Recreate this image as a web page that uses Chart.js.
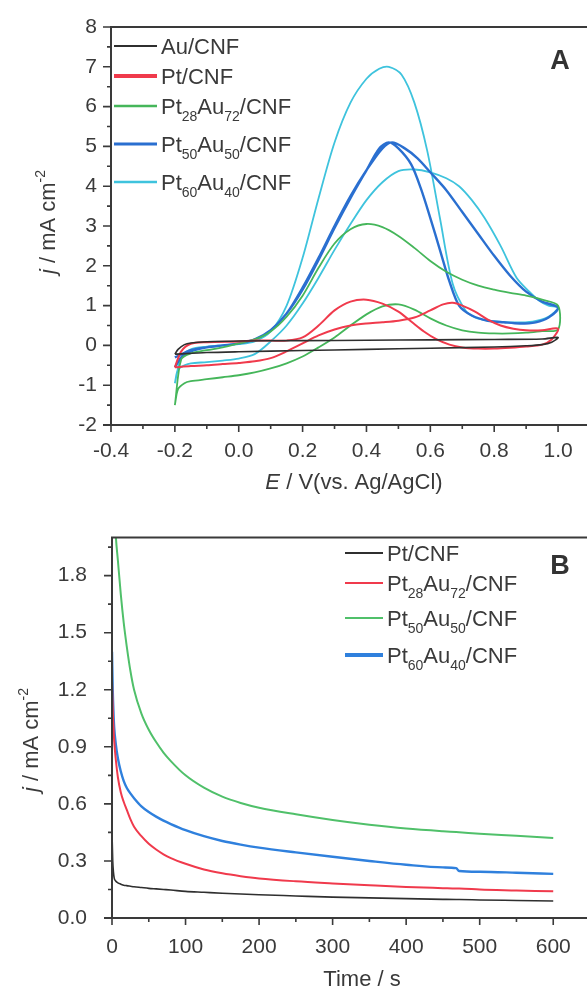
<!DOCTYPE html>
<html>
<head>
<meta charset="utf-8">
<script src="https://cdn.jsdelivr.net/npm/chart.js@4.4.0/dist/chart.umd.min.js"></script>
<style>
  html, body { margin: 0; padding: 0; background: #fff; overflow: hidden; }
  body { width: 587px; height: 990px; position: relative; }
  canvas { position: absolute; left: 0; }
  #cvA { top: 0; }
  #cvB { top: 500px; }
</style>
</head>
<body>
<canvas id="cvA" width="600" height="500"></canvas>
<canvas id="cvB" width="600" height="490"></canvas>
<script>
// Panel A - cyclic voltammograms, forward scan followed by reverse scan (closed loops)
const auE = [-0.2, -0.19, -0.17, -0.15, -0.1, 0.0, 0.2, 0.4, 0.6, 0.8, 0.95, 1.0,
             0.98, 0.95, 0.9, 0.8, 0.6, 0.4, 0.2, 0.0, -0.1, -0.2];
const auJ = [-0.22, -0.1, 0.02, 0.06, 0.09, 0.11, 0.12, 0.13, 0.14, 0.15, 0.16, 0.2,
             0.08, 0.02, -0.01, -0.04, -0.07, -0.1, -0.13, -0.16, -0.18, -0.22];

const ptE = [-0.2, -0.15, -0.1, -0.05, 0.0, 0.05, 0.1, 0.15, 0.2, 0.25, 0.3, 0.35, 0.4, 0.45, 0.5, 0.55, 0.6, 0.64, 0.67, 0.7, 0.74, 0.78, 0.82, 0.86, 0.9, 0.95, 1.0,
             0.98, 0.95, 0.9, 0.85, 0.8, 0.75, 0.7, 0.66, 0.62, 0.58, 0.54, 0.5, 0.45, 0.4, 0.35, 0.3, 0.25, 0.2, 0.15, 0.1, 0.05, 0.0, -0.1, -0.15, -0.18, -0.2];
const ptJ = [-0.55, -0.52, -0.5, -0.47, -0.44, -0.4, -0.32, -0.15, 0.05, 0.25, 0.4, 0.5, 0.55, 0.58, 0.62, 0.7, 0.88, 1.03, 1.07, 1.0, 0.85, 0.65, 0.5, 0.42, 0.38, 0.38, 0.42,
             0.15, 0.02, -0.03, -0.06, -0.08, -0.08, -0.05, 0.02, 0.15, 0.35, 0.6, 0.85, 1.05, 1.15, 1.1, 0.88, 0.5, 0.2, 0.12, 0.12, 0.12, 0.1, 0.08, 0.04, -0.15, -0.55];

const pt28E = [-0.2, -0.19, -0.17, -0.15, -0.1, -0.05, 0.0, 0.05, 0.1, 0.15, 0.2, 0.25, 0.3, 0.35, 0.4, 0.45, 0.5, 0.55, 0.6, 0.65, 0.7, 0.75, 0.8, 0.85, 0.9, 0.95, 1.0,
               1.0, 0.95, 0.9, 0.85, 0.8, 0.75, 0.7, 0.65, 0.6, 0.55, 0.5, 0.45, 0.4, 0.35, 0.3, 0.25, 0.2, 0.15, 0.1, 0.05, 0.0, -0.05, -0.1, -0.15, -0.18, -0.2];
const pt28J = [-1.5, -1.1, -0.95, -0.9, -0.85, -0.8, -0.75, -0.68, -0.58, -0.45, -0.28, -0.05, 0.2, 0.5, 0.78, 0.98, 1.03, 0.9, 0.68, 0.5, 0.38, 0.32, 0.3, 0.3, 0.32, 0.36, 0.4,
               1.0, 1.15, 1.25, 1.32, 1.4, 1.5, 1.65, 1.85, 2.12, 2.45, 2.75, 2.97, 3.05, 2.92, 2.56, 1.95, 1.25, 0.72, 0.35, 0.15, 0.05, -0.05, -0.12, -0.2, -0.35, -1.5];

const pt50E = [-0.2, -0.18, -0.15, -0.1, -0.05, 0.0, 0.05, 0.1, 0.15, 0.2, 0.25, 0.3, 0.35, 0.4, 0.45, 0.48, 0.52, 0.56, 0.6, 0.65, 0.7, 0.75, 0.8, 0.85, 0.9, 0.95, 1.0,
               0.97, 0.93, 0.88, 0.83, 0.78, 0.73, 0.69, 0.66, 0.63, 0.6, 0.57, 0.54, 0.5, 0.47, 0.44, 0.4, 0.35, 0.3, 0.25, 0.2, 0.15, 0.1, 0.05, 0.0, -0.05, -0.1, -0.15, -0.2];
const pt50J = [-0.55, -0.3, -0.15, -0.05, 0.0, 0.05, 0.15, 0.38, 0.8, 1.45, 2.2, 3.0, 3.75, 4.4, 4.95, 5.1, 4.95, 4.7, 4.35, 3.9, 3.35, 2.8, 2.25, 1.75, 1.35, 1.1, 0.95,
               0.7, 0.58, 0.55, 0.58, 0.62, 0.75, 1.0, 1.6, 2.4, 3.2, 3.95, 4.55, 4.95, 5.1, 4.95, 4.4, 3.7, 2.95, 2.15, 1.4, 0.8, 0.38, 0.15, 0.05, 0.0, -0.05, -0.12, -0.3];

const pt60E = [-0.2, -0.19, -0.17, -0.15, -0.1, -0.05, 0.0, 0.05, 0.1, 0.15, 0.2, 0.25, 0.3, 0.35, 0.4, 0.45, 0.5, 0.55, 0.6, 0.65, 0.69, 0.73, 0.77, 0.82, 0.87, 0.91, 0.94, 0.97, 1.0,
               0.97, 0.92, 0.85, 0.78, 0.74, 0.71, 0.67, 0.63, 0.59, 0.55, 0.51, 0.47, 0.44, 0.4, 0.35, 0.3, 0.25, 0.2, 0.15, 0.1, 0.05, 0.0, -0.05, -0.1, -0.15, -0.18, -0.2];
const pt60J = [-0.95, -0.6, -0.5, -0.45, -0.42, -0.38, -0.33, -0.22, 0.1, 0.5, 1.05, 1.7, 2.4, 3.05, 3.65, 4.1, 4.38, 4.42, 4.35, 4.2, 4.0, 3.65, 3.2, 2.5, 1.7, 1.35, 1.13, 1.0, 0.95,
               0.72, 0.6, 0.58, 0.62, 0.7, 0.88, 1.55, 3.2, 4.9, 6.1, 6.8, 7.0, 6.95, 6.7, 6.1, 5.1, 3.7, 2.2, 1.0, 0.35, 0.1, 0.03, 0.0, -0.03, -0.1, -0.3, -0.95];

const eTicks = [-0.4, -0.2, 0.0, 0.2, 0.4, 0.6, 0.8, 1.0];
const eMinor = [-0.3, -0.1, 0.1, 0.3, 0.5, 0.7, 0.9];
const jTicksA = [-2, -1, 0, 1, 2, 3, 4, 5, 6, 7, 8];
const jMinorA = [-1.5, -0.5, 0.5, 1.5, 2.5, 3.5, 4.5, 5.5, 6.5, 7.5];

// Panel B - chronoamperometry
const timeS = [0, 1, 2, 3, 5, 8, 12, 16, 20, 25, 30, 40, 50, 60, 70, 80, 100, 125, 150, 175, 200, 250, 300, 350, 400, 450, 468, 472, 500, 550, 600];
const caPt   = [0.45, 0.3, 0.24, 0.21, 0.195, 0.185, 0.178, 0.172, 0.17, 0.167, 0.164, 0.16, 0.156, 0.153, 0.15, 0.147, 0.14, 0.135, 0.13, 0.126, 0.122, 0.116, 0.11, 0.106, 0.102, 0.098, 0.097, 0.097, 0.095, 0.092, 0.089];
const caPt28 = [1.25, 1.1, 1.0, 0.93, 0.84, 0.74, 0.66, 0.61, 0.57, 0.52, 0.48, 0.43, 0.39, 0.36, 0.335, 0.315, 0.285, 0.255, 0.235, 0.22, 0.208, 0.193, 0.182, 0.172, 0.163, 0.157, 0.155, 0.155, 0.15, 0.145, 0.14];
const caPt50 = [2.6, 2.5, 2.35, 2.2, 2.02, 1.88, 1.7, 1.55, 1.43, 1.3, 1.2, 1.075, 0.99, 0.925, 0.87, 0.825, 0.75, 0.685, 0.638, 0.605, 0.58, 0.545, 0.515, 0.49, 0.47, 0.456, 0.452, 0.451, 0.443, 0.432, 0.42];
const caPt60 = [1.4, 1.2, 1.08, 1.0, 0.92, 0.84, 0.77, 0.72, 0.685, 0.655, 0.63, 0.587, 0.557, 0.533, 0.512, 0.494, 0.462, 0.43, 0.405, 0.386, 0.37, 0.345, 0.322, 0.3, 0.28, 0.266, 0.262, 0.247, 0.243, 0.238, 0.232];

const timeTicks = [0, 100, 200, 300, 400, 500, 600];
const timeMinor = [50, 150, 250, 350, 450, 550];
const jTicksB = [0, 0.3, 0.6, 0.9, 1.2, 1.5, 1.8];
const jMinorB = [0.15, 0.45, 0.75, 1.05, 1.35, 1.65, 1.95];

const FONT = '"Liberation Sans", Arial, sans-serif';
const INK = '#3a3a3a';

function pts(xs, ys) {
    return xs.map((x, i) => ({ x: x, y: ys[i] }));
}

function fontFor(mode, size) {
    const s = (mode === 'sub' || mode === 'sup') ? Math.round(size * 0.62) : size;
    return (mode === 'i' ? 'italic ' : '') + (mode === 'b' ? 'bold ' : '') + s + 'px ' + FONT;
}

// text with italic / sub / sup pieces, y is the middle of the capitals
function drawRich(ctx, parts, x, y, size, align) {
    let w = 0;
    parts.forEach(p => { ctx.font = fontFor(p[1], size); w += ctx.measureText(p[0]).width; });
    let cx = align === 'left' ? x : x - w / 2;
    const base = y + size * 0.36;
    ctx.textAlign = 'left';
    ctx.textBaseline = 'alphabetic';
    parts.forEach(p => {
        ctx.font = fontFor(p[1], size);
        const dy = p[1] === 'sub' ? size * 0.32 : (p[1] === 'sup' ? -size * 0.45 : 0);
        ctx.fillText(p[0], cx, base + dy);
        cx += ctx.measureText(p[0]).width;
    });
}

const framePlugin = {
    id: 'frame',
    afterDraw(chart, args, o) {
        const ctx = chart.ctx, a = chart.chartArea;
        const sx = chart.scales.x, sy = chart.scales.y;
        ctx.save();
        ctx.strokeStyle = INK;
        ctx.lineWidth = 2;
        ctx.beginPath();
        ctx.moveTo(a.left - 8, a.bottom); ctx.lineTo(a.right, a.bottom);
        ctx.moveTo(a.left, a.bottom); ctx.lineTo(a.left, a.top); ctx.lineTo(a.right, a.top);
        ctx.stroke();

        ctx.lineWidth = 1.6;
        ctx.beginPath();
        o.xMajor.forEach(v => { const p = sx.getPixelForValue(v); ctx.moveTo(p, a.bottom); ctx.lineTo(p, a.bottom + 7); });
        o.xMinor.forEach(v => { const p = sx.getPixelForValue(v); ctx.moveTo(p, a.bottom); ctx.lineTo(p, a.bottom + 4); });
        o.yMajor.forEach(v => { const p = sy.getPixelForValue(v); ctx.moveTo(a.left, p); ctx.lineTo(a.left - 8, p); });
        o.yMinor.forEach(v => { const p = sy.getPixelForValue(v); ctx.moveTo(a.left, p); ctx.lineTo(a.left - 4, p); });
        ctx.stroke();

        ctx.fillStyle = INK;
        drawRich(ctx, o.xTitle, o.xTitleAt[0], o.xTitleAt[1], 22);
        ctx.save();
        ctx.translate(o.yTitleAt[0], o.yTitleAt[1]);
        ctx.rotate(-Math.PI / 2);
        drawRich(ctx, [['j', 'i'], [' / mA cm', ''], ['-2', 'sup']], 0, 0, 22);
        ctx.restore();

        ctx.fillStyle = '#333';
        drawRich(ctx, [[o.letter, 'b']], o.letterAt[0], o.letterAt[1], 27);

        // legend
        const lg = o.legend;
        chart.data.datasets.forEach((ds, i) => {
            const y = lg.y[i];
            ctx.strokeStyle = ds.borderColor;
            ctx.lineWidth = lg.widths[i];
            ctx.beginPath();
            ctx.moveTo(lg.x0, y); ctx.lineTo(lg.x1, y);
            ctx.stroke();
            ctx.fillStyle = INK;
            drawRich(ctx, lg.names[i], lg.x1 + 4, y, 22, 'left');
        });
        ctx.restore();
    }
};

function curve(label, xs, ys, color, width, mono) {
    return {
        label: label,
        data: pts(xs, ys),
        borderColor: color,
        backgroundColor: color,
        borderWidth: width,
        showLine: true,
        pointRadius: 0,
        fill: false,
        tension: mono ? 0 : 0.3,
        cubicInterpolationMode: mono ? 'monotone' : 'default'
    };
}

function scaleX(min, max, ticks, fmt, pad, h) {
    return {
        type: 'linear', min: min, max: max,
        grid: { display: false, drawTicks: false },
        border: { display: false },
        afterBuildTicks: s => { s.ticks = ticks.map(v => ({ value: v })); },
        afterFit: s => { s.height = h; },
        ticks: { autoSkip: false, maxRotation: 0, padding: pad, color: INK,
                 font: { family: FONT, size: 21 }, callback: fmt }
    };
}

function scaleY(min, max, ticks, fmt, pad, w) {
    return {
        type: 'linear', min: min, max: max,
        grid: { display: false, drawTicks: false },
        border: { display: false },
        afterBuildTicks: s => { s.ticks = ticks.map(v => ({ value: v })); },
        afterFit: s => { s.width = w; },
        ticks: { autoSkip: false, padding: pad, color: INK,
                 font: { family: FONT, size: 21 }, callback: fmt }
    };
}

const sub = (a, b) => [['Pt', ''], [a, 'sub'], ['Au', ''], [b, 'sub'], ['/CNF', '']];

new Chart(document.getElementById('cvA'), {
    type: 'scatter',
    data: {
        datasets: [
            curve('Au/CNF', auE, auJ, '#2f2f2f', 1.6),
            curve('Pt/CNF', ptE, ptJ, '#f03a4c', 2),
            curve('Pt28Au72/CNF', pt28E, pt28J, '#45b65a', 1.8),
            curve('Pt50Au50/CNF', pt50E, pt50J, '#2a6fd0', 2.4),
            curve('Pt60Au40/CNF', pt60E, pt60J, '#3ec3dd', 1.8)
        ]
    },
    options: {
        responsive: false,
        animation: false,
        devicePixelRatio: 1,
        layout: { padding: { top: 27, right: 10, left: 0, bottom: 0 } },
        plugins: {
            legend: { display: false },
            tooltip: { enabled: false },
            frame: {
                xMajor: eTicks, xMinor: eMinor, yMajor: jTicksA, yMinor: jMinorA,
                xTitle: [['E', 'i'], [' / V(vs. Ag/AgCl)', '']], xTitleAt: [354, 481],
                yTitleAt: [47, 222],
                letter: 'A', letterAt: [560, 59],
                legend: {
                    x0: 114, x1: 157,
                    y: [46, 76, 106, 144, 182],
                    widths: [1.8, 4, 2.5, 3, 2.5],
                    names: [[['Au/CNF', '']], [['Pt/CNF', '']], sub('28', '72'), sub('50', '50'), sub('60', '40')]
                }
            }
        },
        scales: {
            x: scaleX(-0.4, 1.1, eTicks, v => v.toFixed(1), 14, 75),
            y: scaleY(-2, 8, jTicksA, v => String(v), 14, 111)
        }
    },
    plugins: [framePlugin]
});

new Chart(document.getElementById('cvB'), {
    type: 'scatter',
    data: {
        datasets: [
            curve('Pt/CNF', timeS, caPt, '#2f2f2f', 1.6, true),
            curve('Pt28Au72/CNF', timeS, caPt28, '#f03a4c', 2, true),
            curve('Pt50Au50/CNF', timeS, caPt50, '#50c06a', 2, true),
            curve('Pt60Au40/CNF', timeS, caPt60, '#2f80dd', 2.4, true)
        ]
    },
    options: {
        responsive: false,
        animation: false,
        devicePixelRatio: 1,
        layout: { padding: { top: 32, right: 10, left: 0, bottom: 0 } },
        plugins: {
            legend: { display: false },
            tooltip: { enabled: false },
            frame: {
                xMajor: timeTicks, xMinor: timeMinor, yMajor: jTicksB, yMinor: jMinorB,
                xTitle: [['Time / s', '']], xTitleAt: [362, 478],
                yTitleAt: [30, 240],
                letter: 'B', letterAt: [560, 64],
                legend: {
                    x0: 345, x1: 383,
                    y: [53, 83, 118, 155],
                    widths: [1.8, 2, 2, 4],
                    names: [[['Pt/CNF', '']], sub('28', '72'), sub('50', '50'), sub('60', '40')]
                }
            }
        },
        scales: {
            x: scaleX(0, 650, timeTicks, v => String(v), 17, 72),
            y: scaleY(0, 2.0, jTicksB, v => v.toFixed(1), 25, 112)
        }
    },
    plugins: [framePlugin]
});
</script>
</body>
</html>
